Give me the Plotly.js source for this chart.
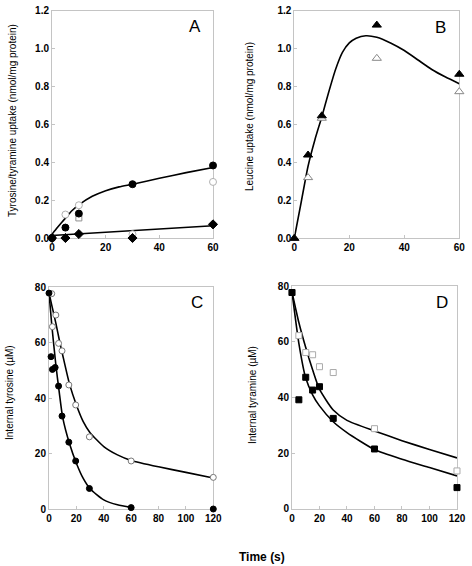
<!DOCTYPE html>
<html><head><meta charset="utf-8">
<script src="https://cdn.plot.ly/plotly-3.0.1.min.js"></script>
<style>html,body{margin:0;padding:0;background:#fff;}#chart{width:472px;height:566px;}</style>
</head><body><div id="chart"></div>
<script>
// Panel A: tyrosine/tyramine uptake
const aTime = [0, 5, 10, 30, 60];
const aTyrFilled = [0, 0.055, 0.129, 0.284, 0.383];
const aTyrOpen = [0, 0.124, 0.173, 0.02, 0.296];
const aSquareTime = [10];
const aSquare = [0.106];
const aDiamond = [0, 0, 0.021, 0, 0.072];
const aFitTime = [0, 2, 5, 7.5, 10, 15, 20, 25, 30, 40, 50, 60];
const aFitUpper = [0.02, 0.055, 0.105, 0.145, 0.175, 0.22, 0.25, 0.27, 0.284, 0.315, 0.345, 0.372];
const aFitLowerTime = [0, 60];
const aFitLower = [0.013, 0.065];

// Panel B: leucine uptake
const bTime = [0, 5, 10, 30, 60];
const bFilled = [0, 0.439, 0.646, 1.124, 0.865];
const bOpen = [0, 0.32, 0.633, 0.949, 0.773];
const bFitTime = [0, 2.5, 5, 7.5, 10, 12.5, 15, 17.5, 20, 22.5, 26, 30, 35, 40, 45, 50, 55, 60];
const bFit = [0, 0.19, 0.38, 0.52, 0.64, 0.77, 0.89, 0.98, 1.03, 1.055, 1.068, 1.06, 1.03, 0.99, 0.94, 0.89, 0.85, 0.815];

// Panel C: internal tyrosine
const cFilledTime = [0, 1.5, 2.5, 4.5, 7, 9.5, 14.5, 19.5, 29.5, 60, 120];
const cFilled = [77.8, 54.9, 50.3, 51.0, 44.3, 33.5, 24.1, 17.3, 7.4, 0.5, 0];
const cOpenTime = [2, 2.5, 5, 7, 9.5, 14.5, 19.5, 29.5, 60, 120];
const cOpen = [77.6, 65.7, 69.9, 59.7, 57, 44.7, 37.5, 26, 17.3, 11.4];
const cFitFilledTime = [0, 2, 5, 7.5, 10, 15, 20, 25, 30, 40, 50, 60];
const cFitFilled = [78, 66.5, 52, 42, 33, 23.5, 16.5, 11, 7.3, 3.3, 1.5, 0.6];
const cFitOpenTime = [0, 2, 5, 7.5, 10, 15, 20, 25, 30, 40, 50, 60, 80, 100, 120];
const cFitOpen = [78, 73.5, 67, 61, 55.5, 45, 37.5, 31.5, 27.5, 22.5, 19.5, 17.5, 15.2, 13.2, 11.2];

// Panel D: internal tyramine
const dTime = [0, 5, 10, 15, 20, 30, 60, 120];
const dFilled = [77.8, 39.2, 47.3, 42.7, 43.9, 32.5, 21.5, 7.6];
const dOpen = [77.8, 62.3, 56.2, 55.4, 51.1, 49, 28.8, 13.6];
const dFitTime = [0, 5, 10, 15, 20, 30, 40, 60, 80, 100, 120];
const dFitLower = [78, 59.5, 47, 41, 37, 31.3, 27.4, 21.3, 17.8, 14.8, 11.8];
const dFitUpper = [78, 67, 58, 50, 43, 35.5, 31.8, 28, 24.5, 21.3, 18.3];

const F = 'Arial, "Liberation Sans", sans-serif';
const lineStyle = {color: '#000', width: 1.6, shape: 'spline', smoothing: 0.6};
function fit(x, y, xa, ya) {
  return {x, y, xaxis: xa, yaxis: ya, mode: 'lines', line: lineStyle, hoverinfo: 'skip', cliponaxis: false};
}
function pts(x, y, xa, ya, symbol, color, lineColor, size) {
  return {x, y, xaxis: xa, yaxis: ya, mode: 'markers', cliponaxis: false,
    marker: {symbol, size: size || 7, color, line: {color: lineColor, width: 1}}};
}
const traces = [
  // A
  fit(aFitTime, aFitUpper, 'x', 'y'),
  fit(aFitLowerTime, aFitLower, 'x', 'y'),
  pts(aTime, aTyrOpen, 'x', 'y', 'circle', '#fff', '#b0b0b0', 7),
  pts(aSquareTime, aSquare, 'x', 'y', 'square', '#fff', '#909090', 6),
  pts(aTime, aTyrFilled, 'x', 'y', 'circle', '#000', '#000', 7),
  pts(aTime, aDiamond, 'x', 'y', 'diamond', '#000', '#000', 7),
  // B
  fit(bFitTime, bFit, 'x2', 'y2'),
  pts(bTime, bOpen, 'x2', 'y2', 'triangle-up', '#fff', '#888', 8),
  pts(bTime, bFilled, 'x2', 'y2', 'triangle-up', '#000', '#000', 8),
  // C
  fit(cFitFilledTime, cFitFilled, 'x3', 'y3'),
  fit(cFitOpenTime, cFitOpen, 'x3', 'y3'),
  pts(cOpenTime, cOpen, 'x3', 'y3', 'circle', '#fff', '#777', 6),
  pts(cFilledTime, cFilled, 'x3', 'y3', 'circle', '#000', '#000', 6),
  // D
  fit(dFitTime, dFitLower, 'x4', 'y4'),
  fit(dFitTime, dFitUpper, 'x4', 'y4'),
  pts(dTime, dOpen, 'x4', 'y4', 'square', '#fff', '#aaa', 6),
  pts(dTime, dFilled, 'x4', 'y4', 'square', '#000', '#000', 6)
];

function ax(domain, range, dtick, anchor, fmt) {
  const a = {domain, range, dtick, tick0: 0, anchor, showgrid: false, zeroline: false,
    showline: true, mirror: true, linecolor: '#c4c4c4', linewidth: 1, layer: 'below traces',
    ticks: 'inside', ticklen: 3, tickcolor: '#c4c4c4',
    tickfont: {family: F, size: 10, color: '#000', weight: 'bold'}, fixedrange: true};
  if (fmt) a.tickformat = fmt;
  return a;
}
function note(text, x, y, size, angle, weight) {
  return {text, x, y, xref: 'paper', yref: 'paper', xanchor: 'center', yanchor: 'middle',
    showarrow: false, textangle: angle || 0, font: {family: F, size, color: '#000', weight: weight || 'normal'}};
}
const layout = {
  width: 472, height: 566, margin: {l: 0, r: 0, t: 0, b: 0},
  paper_bgcolor: '#fff', plot_bgcolor: '#fff', showlegend: false,
  font: {family: F, color: '#000'},
  xaxis: ax([0.1102, 0.4513], [0, 60], 20, 'y'),
  yaxis: ax([0.5795, 0.9811], [0, 1.2], 0.2, 'x', '.1f'),
  xaxis2: ax([0.6235, 0.9731], [0, 60], 20, 'y2'),
  yaxis2: ax([0.579, 0.9811], [0, 1.2], 0.2, 'x2', '.1f'),
  xaxis3: ax([0.1038, 0.4519], [0, 120], 20, 'y3'),
  yaxis3: ax([0.1007, 0.4929], [0, 80], 20, 'x3'),
  xaxis4: ax([0.6186, 0.9682], [0, 120], 20, 'y4'),
  yaxis4: ax([0.1012, 0.494], [0, 80], 20, 'x4'),
  annotations: [
    note('A', 0.413, 0.954, 17),
    note('B', 0.934, 0.951, 17),
    note('C', 0.417, 0.4647, 17),
    note('D', 0.936, 0.4647, 17),
    note('Tyrosine/tyramine uptake (nmol/mg protein)', 0.0275, 0.788, 10, -90),
    note('Leucine uptake (nmol/mg protein)', 0.5275, 0.795, 10, -90),
    note('Internal tyrosine (µM)', 0.0212, 0.3057, 10, -90),
    note('Internal tyramine (µM)', 0.534, 0.302, 10, -90),
    note('Time (s)', 0.555, 0.0159, 12, 0, 'bold')
  ]
};
Plotly.newPlot('chart', traces, layout, {staticPlot: true});
</script>
</body></html>
